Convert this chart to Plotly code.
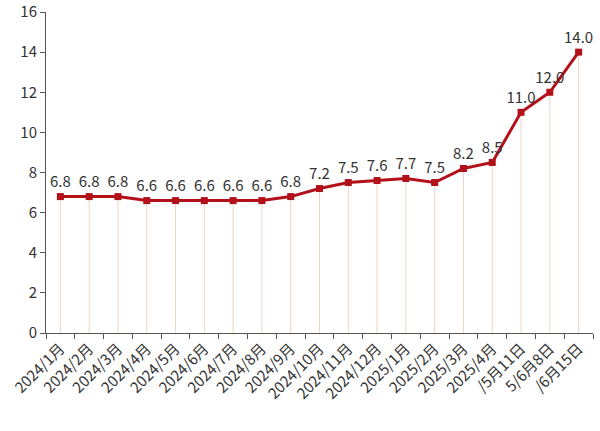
import plotly.graph_objects as go

# categories (as displayed; last three labels are cut in the source image)
dates = [
    "2024/1月", "2024/2月", "2024/3月", "2024/4月", "2024/5月", "2024/6月",
    "2024/7月", "2024/8月", "2024/9月", "2024/10月", "2024/11月", "2024/12月",
    "2025/1月", "2025/2月", "2025/3月", "2025/4月",
    "/5月11日", "5/6月8日", "/6月15日",
]
values = [6.8, 6.8, 6.8, 6.6, 6.6, 6.6, 6.6, 6.6, 6.8, 7.2, 7.5, 7.6, 7.7,
          7.5, 8.2, 8.5, 11.0, 12.0, 14.0]
y_ticks = [0, 2, 4, 6, 8, 10, 12, 14, 16]

fig = go.Figure()

fig.add_trace(go.Scatter(
    x=dates,
    y=values,
    mode="lines+markers+text",
    text=[f"{v:.1f}" for v in values],
    textposition="top center",
    textfont=dict(size=15, color="#333333"),
    line=dict(color="#b3111a", width=3),
    marker=dict(symbol="square", size=7, color="#b3111a"),
    # thin drop lines down to the axis
    error_y=dict(type="data", symmetric=False, array=[0] * len(values),
                 arrayminus=values, color="rgba(215,180,150,0.55)",
                 thickness=1, width=0),
    cliponaxis=False,
    showlegend=False,
))

fig.update_layout(
    width=600,
    height=431,
    margin=dict(l=46, r=7, t=12, b=98),
    paper_bgcolor="white",
    plot_bgcolor="white",
    font=dict(family="Noto Sans CJK SC, Noto Sans, sans-serif", color="#333333"),
    xaxis=dict(
        type="category",
        range=[-0.5, len(dates) - 0.5],
        tickangle=-45,
        tickfont=dict(size=15, color="#333333"),
        showline=True, linecolor="#555555", linewidth=1,
        ticks="outside", ticklen=5, tickcolor="#555555",
        tickson="boundaries",
        showgrid=False,
        automargin=False,
    ),
    yaxis=dict(
        range=[0, 16],
        tickvals=y_ticks,
        tickfont=dict(size=15, color="#333333"),
        showline=True, linecolor="#555555", linewidth=1,
        ticks="outside", ticklen=5, tickcolor="#555555",
        showgrid=False, zeroline=False,
        automargin=False,
    ),
)

# drop the default 8px page margin so the figure sits at the window origin
fig.write_html("out.html", config={"displayModeBar": False},
               post_script="document.body.style.margin='0';")
